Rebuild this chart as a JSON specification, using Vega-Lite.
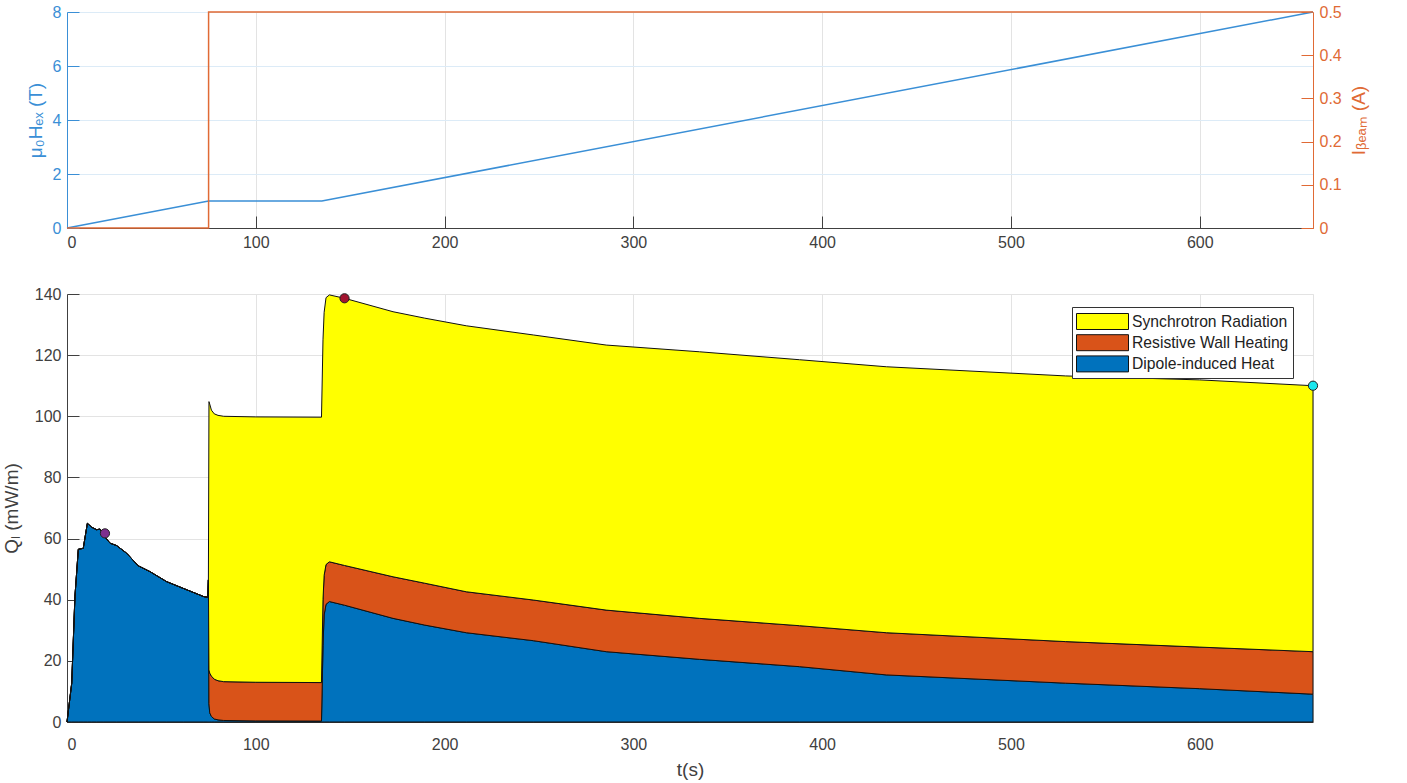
{
  "$schema": "https://vega.github.io/schema/vega-lite/v6.json",
  "autosize": {"type": "none"},
  "padding": {"left": 67, "top": 12, "right": 1340, "bottom": 771},
  "config": {
    "font": "Liberation Sans",
    "view": {"stroke": "#e2e2e2"},
    "axis": {
      "labelFont": "Liberation Sans",
      "titleFont": "Liberation Sans",
      "labelFontSize": 16,
      "titleFontSize": 19,
      "titleFontWeight": "normal",
      "labelColor": "#404040",
      "titleColor": "#404040",
      "domainColor": "#404040",
      "tickColor": "#404040",
      "tickSize": -12,
      "labelPadding": 18,
      "gridColor": "#e3e3e3",
      "gridOpacity": 1
    },
    "legend": {
      "labelFont": "Liberation Sans",
      "labelFontSize": 15.7,
      "labelColor": "#222222"
    }
  },
  "vconcat": [
    {
      "width": 1246,
      "height": 216,
      "encoding": {
        "x": {
          "field": "t",
          "type": "quantitative",
          "scale": {"domain": [0, 660], "nice": false},
          "axis": {"values": [0, 100, 200, 300, 400, 500, 600], "title": null, "grid": true}
        }
      },
      "layer": [
        {
          "data": {"values": [
            {"t": 0, "b": 0},
            {"t": 75, "b": 1},
            {"t": 135, "b": 1},
            {"t": 660, "b": 8}
          ]},
          "mark": {"type": "line", "color": "#3a8fd6", "strokeWidth": 1.5},
          "encoding": {
            "y": {
              "field": "b",
              "type": "quantitative",
              "scale": {"domain": [0, 8], "nice": false},
              "axis": {
                "values": [0, 2, 4, 6, 8],
                "title": "μ₀Hₑₓ (T)",
                "grid": true,
                "gridColor": "#dcebf7",
                "domainColor": "#3a8fd6",
                "tickColor": "#3a8fd6",
                "labelColor": "#3a8fd6",
                "titleColor": "#3a8fd6",
                "titlePadding": 7
              }
            }
          }
        },
        {
          "data": {"values": [
            {"t": 0, "i": 0},
            {"t": 75, "i": 0},
            {"t": 75, "i": 0.5},
            {"t": 660, "i": 0.5}
          ]},
          "mark": {"type": "line", "color": "#e06a35", "strokeWidth": 1.5},
          "encoding": {
            "y": {
              "field": "i",
              "type": "quantitative",
              "scale": {"domain": [0, 0.5], "nice": false},
              "axis": {
                "orient": "right",
                "values": [0, 0.1, 0.2, 0.3, 0.4, 0.5],
                "format": "~g",
                "title": "Iᵦₑₐₘ (A)",
                "titleAngle": 270,
                "titleBaseline": "top",
                "grid": false,
                "domainColor": "#e06a35",
                "tickColor": "#e06a35",
                "labelColor": "#e06a35",
                "titleColor": "#e06a35",
                "titlePadding": 8
              }
            }
          }
        }
      ],
      "resolve": {"scale": {"y": "independent"}}
    },
    {
      "width": 1246,
      "height": 428,
      "layer": [
        {
          "data": {"values": [
            {"t": 0, "Dipole-induced Heat": 0, "Resistive Wall Heating": 0, "Synchrotron Radiation": 0},
            {"t": 2.5, "Dipole-induced Heat": 12.7, "Resistive Wall Heating": 0, "Synchrotron Radiation": 0},
            {"t": 4.2, "Dipole-induced Heat": 41, "Resistive Wall Heating": 0, "Synchrotron Radiation": 0},
            {"t": 6.0, "Dipole-induced Heat": 56.5, "Resistive Wall Heating": 0, "Synchrotron Radiation": 0},
            {"t": 8.6, "Dipole-induced Heat": 56.8, "Resistive Wall Heating": 0, "Synchrotron Radiation": 0},
            {"t": 10.8, "Dipole-induced Heat": 65, "Resistive Wall Heating": 0, "Synchrotron Radiation": 0},
            {"t": 13.1, "Dipole-induced Heat": 63.7, "Resistive Wall Heating": 0, "Synchrotron Radiation": 0},
            {"t": 15.7, "Dipole-induced Heat": 62.9, "Resistive Wall Heating": 0, "Synchrotron Radiation": 0},
            {"t": 17.5, "Dipole-induced Heat": 63.1, "Resistive Wall Heating": 0, "Synchrotron Radiation": 0},
            {"t": 19.2, "Dipole-induced Heat": 61.2, "Resistive Wall Heating": 0, "Synchrotron Radiation": 0},
            {"t": 22.8, "Dipole-induced Heat": 58.5, "Resistive Wall Heating": 0, "Synchrotron Radiation": 0},
            {"t": 26.3, "Dipole-induced Heat": 57.7, "Resistive Wall Heating": 0, "Synchrotron Radiation": 0},
            {"t": 31.6, "Dipole-induced Heat": 55.2, "Resistive Wall Heating": 0, "Synchrotron Radiation": 0},
            {"t": 37.7, "Dipole-induced Heat": 51.1, "Resistive Wall Heating": 0, "Synchrotron Radiation": 0},
            {"t": 43.9, "Dipole-induced Heat": 49.2, "Resistive Wall Heating": 0, "Synchrotron Radiation": 0},
            {"t": 52.8, "Dipole-induced Heat": 45.9, "Resistive Wall Heating": 0, "Synchrotron Radiation": 0},
            {"t": 61.6, "Dipole-induced Heat": 43.7, "Resistive Wall Heating": 0, "Synchrotron Radiation": 0},
            {"t": 72.5, "Dipole-induced Heat": 41.0, "Resistive Wall Heating": 0, "Synchrotron Radiation": 0},
            {"t": 74.6, "Dipole-induced Heat": 40.8, "Resistive Wall Heating": 0, "Synchrotron Radiation": 0},
            {"t": 74.9, "Dipole-induced Heat": 46.5, "Resistive Wall Heating": 0, "Synchrotron Radiation": 0},
            {"t": 75.2, "Dipole-induced Heat": 6, "Resistive Wall Heating": 11, "Synchrotron Radiation": 87.8},
            {"t": 75.6, "Dipole-induced Heat": 3, "Resistive Wall Heating": 13, "Synchrotron Radiation": 88},
            {"t": 76.5, "Dipole-induced Heat": 1.8, "Resistive Wall Heating": 13.2, "Synchrotron Radiation": 87},
            {"t": 78, "Dipole-induced Heat": 1.0, "Resistive Wall Heating": 13, "Synchrotron Radiation": 86.8},
            {"t": 80, "Dipole-induced Heat": 0.7, "Resistive Wall Heating": 12.8, "Synchrotron Radiation": 86.8},
            {"t": 83, "Dipole-induced Heat": 0.5, "Resistive Wall Heating": 12.7, "Synchrotron Radiation": 86.8},
            {"t": 100, "Dipole-induced Heat": 0.35, "Resistive Wall Heating": 12.65, "Synchrotron Radiation": 86.8},
            {"t": 134.8, "Dipole-induced Heat": 0.3, "Resistive Wall Heating": 12.6, "Synchrotron Radiation": 86.8},
            {"t": 135.6, "Dipole-induced Heat": 25, "Resistive Wall Heating": 15, "Synchrotron Radiation": 85},
            {"t": 136.2, "Dipole-induced Heat": 35, "Resistive Wall Heating": 13, "Synchrotron Radiation": 86},
            {"t": 137.2, "Dipole-induced Heat": 38.5, "Resistive Wall Heating": 13, "Synchrotron Radiation": 87.3},
            {"t": 139, "Dipole-induced Heat": 39.4, "Resistive Wall Heating": 13, "Synchrotron Radiation": 87.3},
            {"t": 147, "Dipole-induced Heat": 38.2, "Resistive Wall Heating": 13, "Synchrotron Radiation": 87.4},
            {"t": 172.7, "Dipole-induced Heat": 33.9, "Resistive Wall Heating": 13.6, "Synchrotron Radiation": 86.7},
            {"t": 189.5, "Dipole-induced Heat": 31.7, "Resistive Wall Heating": 13.7, "Synchrotron Radiation": 86.7},
            {"t": 211.5, "Dipole-induced Heat": 29.2, "Resistive Wall Heating": 13.4, "Synchrotron Radiation": 87},
            {"t": 247, "Dipole-induced Heat": 26.6, "Resistive Wall Heating": 13.3, "Synchrotron Radiation": 86.7},
            {"t": 285.6, "Dipole-induced Heat": 23.0, "Resistive Wall Heating": 13.6, "Synchrotron Radiation": 86.7},
            {"t": 335, "Dipole-induced Heat": 20.5, "Resistive Wall Heating": 13.4, "Synchrotron Radiation": 87.2},
            {"t": 388, "Dipole-induced Heat": 18.1, "Resistive Wall Heating": 13.4, "Synchrotron Radiation": 87.0},
            {"t": 434, "Dipole-induced Heat": 15.4, "Resistive Wall Heating": 13.8, "Synchrotron Radiation": 87.0},
            {"t": 529, "Dipole-induced Heat": 12.7, "Resistive Wall Heating": 13.6, "Synchrotron Radiation": 86.9},
            {"t": 600, "Dipole-induced Heat": 10.9, "Resistive Wall Heating": 13.6, "Synchrotron Radiation": 87.4},
            {"t": 660, "Dipole-induced Heat": 9.1, "Resistive Wall Heating": 13.9, "Synchrotron Radiation": 87.0}
          ]},
          "transform": [
            {"fold": ["Dipole-induced Heat", "Resistive Wall Heating", "Synchrotron Radiation"], "as": ["series", "q"]}
          ],
          "mark": {"type": "area", "stroke": "#111111", "strokeWidth": 1, "interpolate": "linear"},
          "encoding": {
            "x": {
              "field": "t",
              "type": "quantitative",
              "scale": {"domain": [0, 660], "nice": false},
              "axis": {"values": [0, 100, 200, 300, 400, 500, 600], "title": "t(s)", "grid": true, "labelPadding": 26, "titlePadding": 8}
            },
            "y": {
              "field": "q",
              "type": "quantitative",
              "stack": "zero",
              "scale": {"domain": [0, 140], "nice": false},
              "axis": {"values": [0, 20, 40, 60, 80, 100, 120, 140], "title": "Qₗ (mW/m)", "grid": true, "titlePadding": 13}
            },
            "color": {
              "field": "series",
              "type": "nominal",
              "scale": {
                "domain": ["Synchrotron Radiation", "Resistive Wall Heating", "Dipole-induced Heat"],
                "range": ["#ffff00", "#d95319", "#0072bd"]
              },
              "legend": {
                "title": null,
                "orient": "none",
                "legendX": 1005,
                "legendY": 295,
                "symbolType": "M-2.6,-0.8H2.6V0.8H-2.6Z",
                "symbolSize": 400,
                "symbolStrokeColor": "#111111",
                "symbolStrokeWidth": 1,
                "symbolOpacity": 1,
                "symbolOffset": 16,
                "labelOffset": 19,
                "strokeColor": "#333333",
                "fillColor": "#ffffff",
                "padding": 4,
                "rowPadding": 0.2
              }
            },
            "order": {"field": "series", "sort": "ascending"}
          }
        },
        {
          "data": {"values": [
            {"t": 20.1, "q": 61.7, "marker": "dipole peak"},
            {"t": 147, "q": 138.6, "marker": "total peak"},
            {"t": 660, "q": 110, "marker": "end"}
          ]},
          "mark": {"type": "circle", "size": 85, "stroke": "#222222", "strokeWidth": 1, "opacity": 1},
          "encoding": {
            "x": {"field": "t", "type": "quantitative"},
            "y": {"field": "q", "type": "quantitative"},
            "fill": {
              "field": "marker",
              "type": "nominal",
              "scale": {"domain": ["dipole peak", "total peak", "end"], "range": ["#7e2f8e", "#a2142f", "#1ae6ee"]},
              "legend": null
            }
          }
        }
      ]
    }
  ],
  "spacing": 66,
  "bounds": "flush"
}
